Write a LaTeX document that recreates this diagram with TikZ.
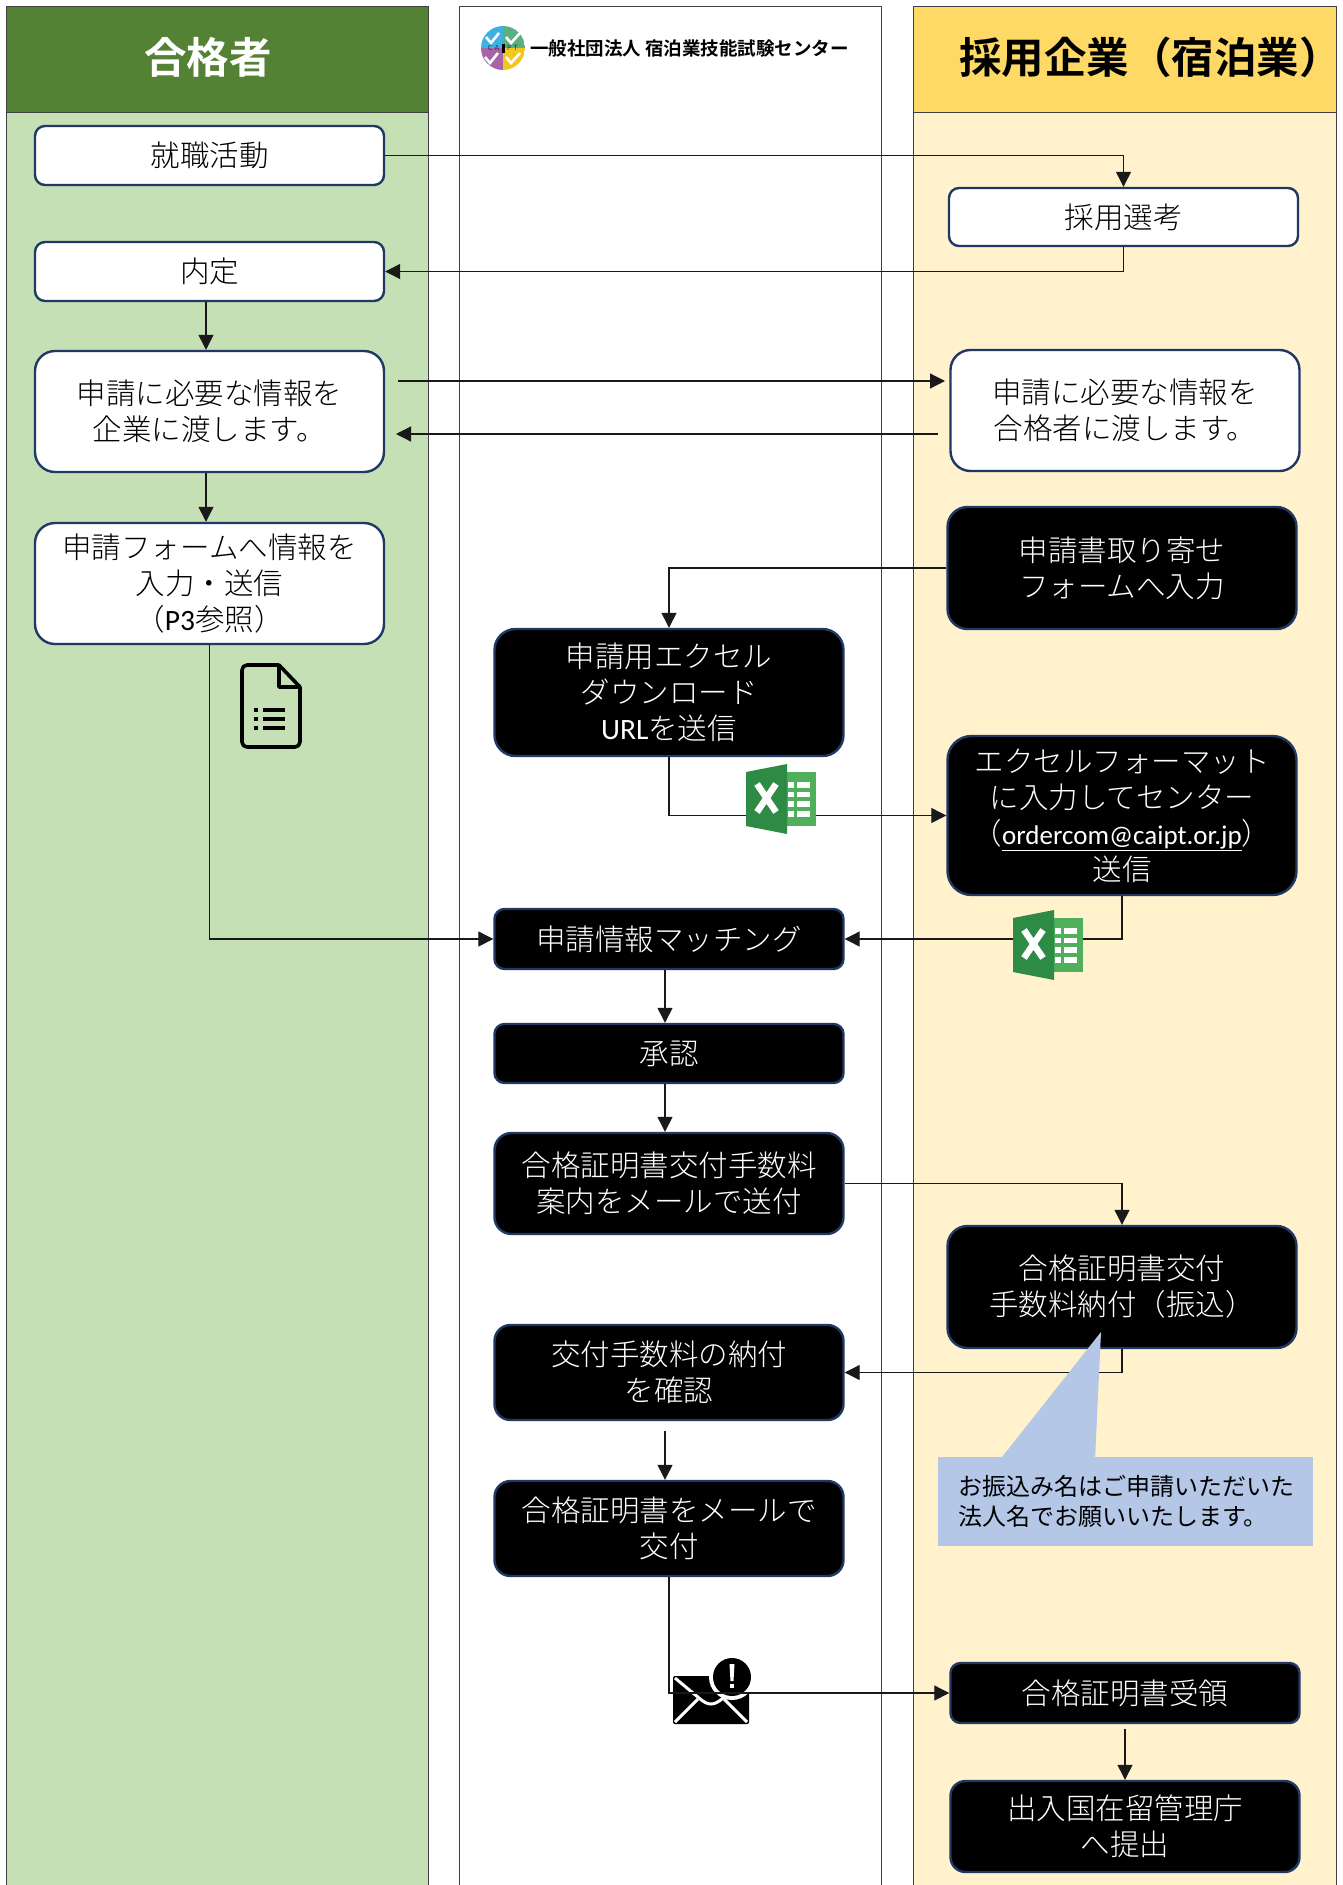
\documentclass[tikz,border=0pt]{standalone}
\usepackage{fontspec}
\setmainfont{Noto Sans CJK JP Light}[BoldFont={Noto Sans CJK JP Bold}]
\newfontfamily\latinfont{Carlito}
\newfontfamily\notefont{Noto Sans CJK JP}
\usetikzlibrary{arrows.meta}

\definecolor{headgreen}{HTML}{548235}
\definecolor{lanegreen}{HTML}{C5E0B4}
\definecolor{headyellow}{HTML}{FFD966}
\definecolor{laneyellow}{HTML}{FFF2CC}
\definecolor{boxline}{HTML}{1F3864}
\definecolor{lanerule}{HTML}{404040}
\definecolor{noteblue}{HTML}{B4C7E7}
\definecolor{xldark}{HTML}{2E8B45}
\definecolor{xllight}{HTML}{4FAF5B}
\definecolor{logoblue}{HTML}{3DB1E3}
\definecolor{logogreen}{HTML}{5BB07F}
\definecolor{logopurple}{HTML}{A565A8}
\definecolor{logoyellow}{HTML}{F2C81E}

\tikzset{
    boxwhite/.style={draw=boxline, line width=2.4pt, fill=white, text=black, minimum width=349pt, inner sep=0pt, align=center, font=\fontsize{29.5}{36}\selectfont},
    boxblack/.style={boxwhite, fill=black, text=white},
    headtext/.style={inner sep=0pt, font=\fontsize{42.5}{48}\selectfont\bfseries},
    conn/.style={line width=1.2pt, draw=black!90, -{Triangle[length=15pt,width=15pt]}},
    excelicon/.pic={
        \fill[xllight] (41,8) rectangle (70,62);
        \fill[xldark] (0,8) -- (41,0) -- (41,70) -- (0,62) -- cycle;
        \foreach \y/\h in {18/6, 28/5, 37/6, 47/6} {
            \fill[white] (42,\y) rectangle ++(6,\h);
            \fill[white] (51,\y) rectangle ++(13,\h);
        }
        \draw[white, line width=6.5pt] (11,20) -- (30,48) (30,20) -- (11,48);
    },
    formicon/.pic={
        \draw[black, line width=3.6pt, line join=round, rounded corners=5pt] (37,0) -- (0,0) -- (0,82) -- (58,82) -- (58,22);
        \draw[black, line width=3.6pt, line join=round] (37,0) -- (58,22) -- (37,22) -- cycle;
        \foreach \y in {43, 52, 61} {
            \fill[black] (12,\y) rectangle ++(4,3.5);
            \fill[black] (21,\y) rectangle ++(22,3.5);
        }
    },
    mailicon/.pic={
        \fill[black, rounded corners=2pt] (0,0) rectangle (76,48);
        \draw[white, line width=3pt] (2,2) -- (26,22) .. controls (35,30) and (41,30) .. (50,22) -- (76,2);
        \draw[white, line width=3pt] (2,46) -- (25,23) (74,46) -- (51,23);
        \fill[white] (59,1) circle (23pt);
        \fill[black] (59,1) circle (19pt);
        \fill[white] (56.5,-12) -- (61.5,-12) -- (60.5,5) -- (57.5,5) -- cycle;
        \fill[white] (57,8) rectangle (61,12);
    },
}

\begin{document}
\begin{tikzpicture}[x=1pt, y=-1pt]
    \useasboundingbox (0,0) rectangle (1343,1885);
    \fill[white] (0,0) rectangle (1343,1885);

    % lanes
    \fill[lanegreen] (6,112) rectangle (428,1885);
    \fill[laneyellow] (913,112) rectangle (1336,1885);
    \draw[lanerule, line width=1pt] (459,1885) -- (459,6) -- (881,6) -- (881,1885);
    \draw[lanerule, line width=1pt] (6,1885) -- (6,6) -- (428,6) -- (428,1885);
    \draw[lanerule, line width=1pt] (913,1885) -- (913,6) -- (1336,6) -- (1336,1885);
    \draw[lanerule, line width=1pt, fill=headgreen] (6,6) rectangle (428,112);
    \draw[lanerule, line width=1pt, fill=headyellow] (913,6) rectangle (1336,112);
    \node[headtext, text=white] (headpassed) at (208,57) {合格者};
    \node[headtext, anchor=west] (headcompany) at (959,57) {採用企業（宿泊業）};

    % logo
    \begin{scope}
        \clip (503,48) circle (22pt);
        \fill[logoblue] (481,26) rectangle (503,48);
        \fill[logogreen] (503,26) rectangle (525,48);
        \fill[logopurple] (481,48) rectangle (503,70);
        \fill[logoyellow] (503,48) rectangle (525,70);
    \end{scope}
    \draw[white, line width=2.6pt] (486,37) -- (491,43) -- (499,33);
    \draw[white, line width=2.6pt] (506,37) -- (511,43) -- (520,33);
    \draw[white, line width=2.6pt] (485,57) -- (490,63) -- (498,53);
    \draw[white, line width=2.6pt] (506,57) -- (511,63) -- (520,53);
    \fill[black] (501.5,44) rectangle (504.5,53);
    \node[inner sep=0pt, font=\fontsize{7}{7}\selectfont] (logoletters) at (503,48) {C\,\,A\,\,\,\,\,\,\,P\,\,T};
    \node[anchor=west, inner sep=0pt, font=\fontsize{18.5}{20}\selectfont\bfseries] (logotext) at (530,48) {一般社団法人 宿泊業技能試験センター};

    % left lane
    \node[boxwhite, minimum height=59pt, rounded corners=10pt] (jobhunt) at (209.5,155.5) {就職活動};
    \node[boxwhite, minimum height=59pt, rounded corners=10pt] (offer) at (209.5,271.5) {内定};
    \node[boxwhite, minimum height=121pt, rounded corners=20pt] (infopassed) at (209.5,411.5) {申請に必要な情報を\\企業に渡します。};
    \node[boxwhite, minimum height=121pt, rounded corners=20pt] (entryform) at (209.5,583.5) {申請フォームへ情報を\\入力・送信\\（{\latinfont P3}参照）};

    % center lane
    \node[boxblack, minimum height=127pt, rounded corners=21pt] (sendurl) at (669,692.5) {申請用エクセル\\ダウンロード\\{\latinfont URL}を送信};
    \node[boxblack, minimum height=60pt, rounded corners=10pt] (matching) at (669,939) {申請情報マッチング};
    \node[boxblack, minimum height=59pt, rounded corners=10pt] (approval) at (669,1053.5) {承認};
    \node[boxblack, minimum height=101pt, rounded corners=17pt] (feenotice) at (669,1183.5) {合格証明書交付手数料\\案内をメールで送付};
    \node[boxblack, minimum height=95pt, rounded corners=16pt] (feecheck) at (669,1372.5) {交付手数料の納付\\を確認};
    \node[boxblack, minimum height=95pt, rounded corners=16pt] (issue) at (669,1528.5) {合格証明書をメールで\\交付};

    % right lane
    \node[boxwhite, minimum height=58pt, rounded corners=10pt] (selection) at (1123.5,217) {採用選考};
    \node[boxwhite, minimum height=121pt, rounded corners=20pt] (infocompany) at (1125,410.5) {申請に必要な情報を\\合格者に渡します。};
    \node[boxblack, minimum height=122pt, rounded corners=20pt] (request) at (1122,568) {申請書取り寄せ\\フォームへ入力};
    \node[boxblack, minimum height=159pt, rounded corners=24pt] (sendexcel) at (1122,815.5) {エクセルフォーマット\\に入力してセンター\\（{\latinfont\fontsize{27}{36}\selectfont\underline{ordercom@caipt.or.jp}}）\\送信};
    \node[boxblack, minimum height=122pt, rounded corners=20pt] (payfee) at (1122,1287) {合格証明書交付\\手数料納付（振込）};
    \node[boxblack, minimum height=60pt, rounded corners=10pt] (received) at (1125,1693) {合格証明書受領};
    \node[boxblack, minimum height=91pt, rounded corners=15pt] (submit) at (1125,1826.5) {出入国在留管理庁\\へ提出};

    % free ends
    \coordinate (sendstart) at (398,381);
    \coordinate (sendend) at (945,381);
    \coordinate (backstart) at (938,434);
    \coordinate (backend) at (396,434);
    \coordinate (issuestart) at (665,1431);
    \coordinate (submitstart) at (1125,1729);

    \pic at (673,1676) {mailicon};

    % connectors
    \draw[conn] (jobhunt.east) -| (selection.north);
    \draw[conn] (selection.south) |- (offer.east);
    \draw[conn] ([xshift=-3.5pt]offer.south) -- ([xshift=-3.5pt]infopassed.north);
    \draw[conn] (sendstart) -- (sendend);
    \draw[conn] (backstart) -- (backend);
    \draw[conn] ([xshift=-3.5pt]infopassed.south) -- ([xshift=-3.5pt]entryform.north);
    \draw[conn] (entryform.south) |- (matching.west);
    \draw[conn] (request.west) -| (sendurl.north);
    \draw[conn] (sendurl.south) |- (sendexcel.west);
    \draw[conn] (sendexcel.south) |- (matching.east);
    \draw[conn] ([xshift=-4pt]matching.south) -- ([xshift=-4pt]approval.north);
    \draw[conn] ([xshift=-4pt]approval.south) -- ([xshift=-4pt]feenotice.north);
    \draw[conn] (feenotice.east) -| (payfee.north);
    \draw[conn] (payfee.south) |- (feecheck.east);
    \draw[conn] (issuestart) -- ([xshift=-4pt]issue.north);
    \draw[conn] (issue.south) |- (received.west);
    \draw[conn] (submitstart) -- (submit.north);

    % icons
    \pic at (242,665) {formicon};
    \pic at (746,764) {excelicon};
    \pic at (1013,910) {excelicon};

    % note
    \fill[noteblue] (1101,1332) -- (1002,1457) -- (999,1460) -- (1095,1460) -- cycle;
    \node[fill=noteblue, minimum width=375pt, minimum height=89pt, inner sep=0pt, text width=335pt, align=left, font=\notefont\fontsize{24}{30}\selectfont] (paynote) at (1125.5,1501.5) {お振込み名はご申請いただいた\\法人名でお願いいたします。};
\end{tikzpicture}
\end{document}
